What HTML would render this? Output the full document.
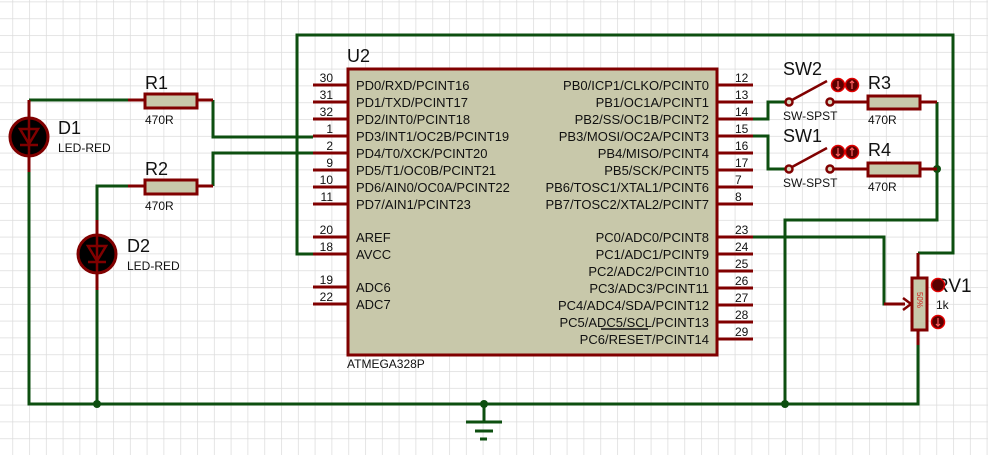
<!DOCTYPE html>
<html><head><meta charset="utf-8"><style>
html,body{margin:0;padding:0;background:#fff;}
svg{display:block;font-family:"Liberation Sans",sans-serif;}
</style></head><body>
<svg width="988" height="455" viewBox="0 0 988 455" xmlns="http://www.w3.org/2000/svg">
<defs>
<pattern id="g" x="12.3" y="1.5" width="16.8" height="16.8" patternUnits="userSpaceOnUse">
<path d="M0 0V16.8M0 0H16.8" stroke="#dcdcdc" stroke-width="1.5" fill="none"/>
</pattern>
</defs>
<rect width="988" height="455" fill="#fff"/>
<rect width="988" height="455" fill="url(#g)"/>

<!-- green wires -->
<g stroke="#0d4f10" stroke-width="3" fill="none">
<polyline points="313,254 297,254 297,35 953,35 953,253 918,253"/>
<polyline points="29,100 128,100"/>
<polyline points="29,172 29,404 918,404 918,345"/>
<polyline points="213,100 213,137 313,137"/>
<polyline points="97,220 97,186 128,186"/>
<polyline points="97,290 97,404"/>
<polyline points="213,186 213,153 313,153"/>
<polyline points="753,119 768,119 768,102 789,102"/>
<polyline points="753,136 768,136 768,169 789,169"/>
<polyline points="937,102 937,220 785,220 785,404"/>
<polyline points="753,237 884,237 884,304 900,304"/>
<polyline points="484,404 484,421"/>
<line x1="466" y1="422" x2="502" y2="422"/>
<line x1="475" y1="431" x2="493" y2="431"/>
<line x1="480" y1="439" x2="487" y2="439"/>
</g>
<g fill="#0d4f10">
<circle cx="97" cy="404" r="4"/><circle cx="484" cy="404" r="4"/><circle cx="785" cy="404" r="4"/><circle cx="937" cy="169" r="4"/>
</g>

<!-- chip -->
<rect x="348" y="69" width="369" height="286" fill="#c8c8aa" stroke="#800000" stroke-width="3"/>
<g stroke="#800000" stroke-width="3">
<line x1="313" y1="85" x2="348" y2="85"/><line x1="313" y1="102" x2="348" y2="102"/>
<line x1="313" y1="119" x2="348" y2="119"/><line x1="313" y1="136" x2="348" y2="136"/>
<line x1="313" y1="153" x2="348" y2="153"/><line x1="313" y1="170" x2="348" y2="170"/>
<line x1="313" y1="187" x2="348" y2="187"/><line x1="313" y1="204" x2="348" y2="204"/>
<line x1="313" y1="237" x2="348" y2="237"/><line x1="313" y1="254" x2="348" y2="254"/>
<line x1="313" y1="287" x2="348" y2="287"/><line x1="313" y1="304" x2="348" y2="304"/>
<line x1="717" y1="85" x2="753" y2="85"/><line x1="717" y1="102" x2="753" y2="102"/>
<line x1="717" y1="119" x2="753" y2="119"/><line x1="717" y1="136" x2="753" y2="136"/>
<line x1="717" y1="153" x2="753" y2="153"/><line x1="717" y1="170" x2="753" y2="170"/>
<line x1="717" y1="187" x2="753" y2="187"/><line x1="717" y1="204" x2="753" y2="204"/>
<line x1="717" y1="237" x2="753" y2="237"/><line x1="717" y1="254" x2="753" y2="254"/>
<line x1="717" y1="271" x2="753" y2="271"/><line x1="717" y1="288" x2="753" y2="288"/>
<line x1="717" y1="305" x2="753" y2="305"/><line x1="717" y1="322" x2="753" y2="322"/>
<line x1="717" y1="339" x2="753" y2="339"/>
</g>
<g font-size="13" fill="#111">
<text x="356" y="90">PD0/RXD/PCINT16</text><text x="356" y="107">PD1/TXD/PCINT17</text>
<text x="356" y="124">PD2/INT0/PCINT18</text><text x="356" y="141">PD3/INT1/OC2B/PCINT19</text>
<text x="356" y="158">PD4/T0/XCK/PCINT20</text><text x="356" y="175">PD5/T1/OC0B/PCINT21</text>
<text x="356" y="192">PD6/AIN0/OC0A/PCINT22</text><text x="356" y="209">PD7/AIN1/PCINT23</text>
<text x="356" y="242">AREF</text><text x="356" y="259">AVCC</text>
<text x="356" y="292">ADC6</text><text x="356" y="309">ADC7</text>
</g>
<g font-size="13" fill="#111" text-anchor="end">
<text x="709" y="90">PB0/ICP1/CLKO/PCINT0</text><text x="709" y="107">PB1/OC1A/PCINT1</text>
<text x="709" y="124">PB2/SS/OC1B/PCINT2</text><text x="709" y="141">PB3/MOSI/OC2A/PCINT3</text>
<text x="709" y="158">PB4/MISO/PCINT4</text><text x="709" y="175">PB5/SCK/PCINT5</text>
<text x="709" y="192">PB6/TOSC1/XTAL1/PCINT6</text><text x="709" y="209">PB7/TOSC2/XTAL2/PCINT7</text>
<text x="709" y="242">PC0/ADC0/PCINT8</text><text x="709" y="259">PC1/ADC1/PCINT9</text>
<text x="709" y="276">PC2/ADC2/PCINT10</text><text x="709" y="293">PC3/ADC3/PCINT11</text>
<text x="709" y="310">PC4/ADC4/SDA/PCINT12</text><text x="709" y="327">PC5/ADC5/SCL/PCINT13</text>
<text x="709" y="344">PC6/RESET/PCINT14</text>
</g>
<line x1="601" y1="329" x2="648" y2="329" stroke="#111" stroke-width="1.5"/>
<g font-size="12" fill="#111" text-anchor="end">
<text x="333" y="82">30</text><text x="333" y="99">31</text><text x="333" y="116">32</text><text x="333" y="133">1</text>
<text x="333" y="150">2</text><text x="333" y="167">9</text><text x="333" y="184">10</text><text x="333" y="201">11</text>
<text x="333" y="234">20</text><text x="333" y="251">18</text><text x="333" y="284">19</text><text x="333" y="301">22</text>
</g>
<g font-size="12" fill="#111">
<text x="735" y="82">12</text><text x="735" y="99">13</text><text x="735" y="116">14</text><text x="735" y="133">15</text>
<text x="735" y="150">16</text><text x="735" y="167">17</text><text x="735" y="184">7</text><text x="735" y="201">8</text>
<text x="735" y="234">23</text><text x="735" y="251">24</text><text x="735" y="268">25</text><text x="735" y="285">26</text>
<text x="735" y="302">27</text><text x="735" y="319">28</text><text x="735" y="336">29</text>
</g>
<text x="347" y="62" font-size="18" fill="#111">U2</text>
<text x="347" y="368" font-size="12" fill="#111">ATMEGA328P</text>

<!-- resistors -->
<g stroke="#800000" stroke-width="3">
<line x1="128" y1="100" x2="145" y2="100"/><line x1="197" y1="100" x2="213" y2="100"/>
<line x1="128" y1="186" x2="145" y2="186"/><line x1="197" y1="186" x2="213" y2="186"/>
<line x1="830" y1="102" x2="868" y2="102"/><line x1="920" y1="102" x2="937" y2="102"/>
<line x1="830" y1="169" x2="868" y2="169"/><line x1="920" y1="169" x2="937" y2="169"/>
<line x1="918" y1="253" x2="918" y2="278"/><line x1="918" y1="330" x2="918" y2="345"/>
<line x1="29" y1="100" x2="29" y2="117"/><line x1="29" y1="157" x2="29" y2="172"/>
<line x1="97" y1="220" x2="97" y2="234"/><line x1="97" y1="272" x2="97" y2="290"/>
<line x1="884" y1="304" x2="905" y2="304"/>
</g>
<g fill="#c8c8aa" stroke="#800000" stroke-width="3">
<rect x="145" y="94" width="52" height="14"/><rect x="145" y="180" width="52" height="14"/>
<rect x="868" y="96" width="52" height="13"/><rect x="868" y="163" width="52" height="13"/>
<rect x="912" y="278" width="15" height="52"/>
</g>
<path d="M903 298 L911 304 L903 310" fill="none" stroke="#800000" stroke-width="2.5"/>
<text x="917" y="300" font-size="8" fill="#d02020" transform="rotate(90 917 300)" text-anchor="middle">50%</text>
<g font-size="18" fill="#111">
<text x="145" y="89">R1</text><text x="145" y="175">R2</text>
<text x="868" y="89">R3</text><text x="868" y="156">R4</text>
<text x="783" y="75">SW2</text><text x="783" y="142">SW1</text>
<text x="58" y="134">D1</text><text x="127" y="252">D2</text>
<text x="935" y="292" font-size="19">RV1</text>
</g>
<g font-size="12" fill="#111">
<text x="145" y="124">470R</text><text x="145" y="210">470R</text>
<text x="868" y="124">470R</text><text x="868" y="191">470R</text>
<text x="783" y="120">SW-SPST</text><text x="783" y="187">SW-SPST</text>
<text x="58" y="152">LED-RED</text><text x="127" y="270">LED-RED</text>
<text x="936" y="309">1k</text>
</g>

<!-- LEDs -->
<g>
<circle cx="29" cy="137" r="19" fill="#000" stroke="#800000" stroke-width="3"/>
<path d="M20 129 H38 L29 144 Z M20 145 H38 M29 119 V155" fill="none" stroke="#800000" stroke-width="2.5"/>
<circle cx="97" cy="254" r="19" fill="#000" stroke="#800000" stroke-width="3"/>
<path d="M88 246 H106 L97 261 Z M88 262 H106 M97 236 V272" fill="none" stroke="#800000" stroke-width="2.5"/>
</g>

<!-- switches -->
<g stroke="#800000" stroke-width="2.5" fill="#d8d8c0">
<line x1="792" y1="100" x2="827" y2="81"/>
<line x1="792" y1="167" x2="827" y2="148"/>
<circle cx="789" cy="102" r="3.5"/><circle cx="830" cy="102" r="3.5"/>
<circle cx="789" cy="169" r="3.5"/><circle cx="830" cy="169" r="3.5"/>
</g>
<g fill="#5a0000" stroke="#e00000" stroke-width="1.5">
<circle cx="838" cy="85" r="6.5"/><circle cx="852" cy="85" r="6.5"/>
<circle cx="838" cy="152" r="6.5"/><circle cx="852" cy="152" r="6.5"/>
<circle cx="938" cy="285" r="6.5"/><circle cx="938" cy="322" r="6.5"/>
</g>
<g stroke="#ff6060" stroke-width="1.2" fill="none">
<path d="M838 81 V89 M836 87 L838 89 L840 87"/><path d="M852 81 V89 M850 83 L852 81 L854 83"/>
<path d="M838 148 V156 M836 154 L838 156 L840 154"/><path d="M852 148 V156 M850 150 L852 148 L854 150"/>
<path d="M938 318 V326 M936 324 L938 326 L940 324"/>
</g>
</svg>
</body></html>
